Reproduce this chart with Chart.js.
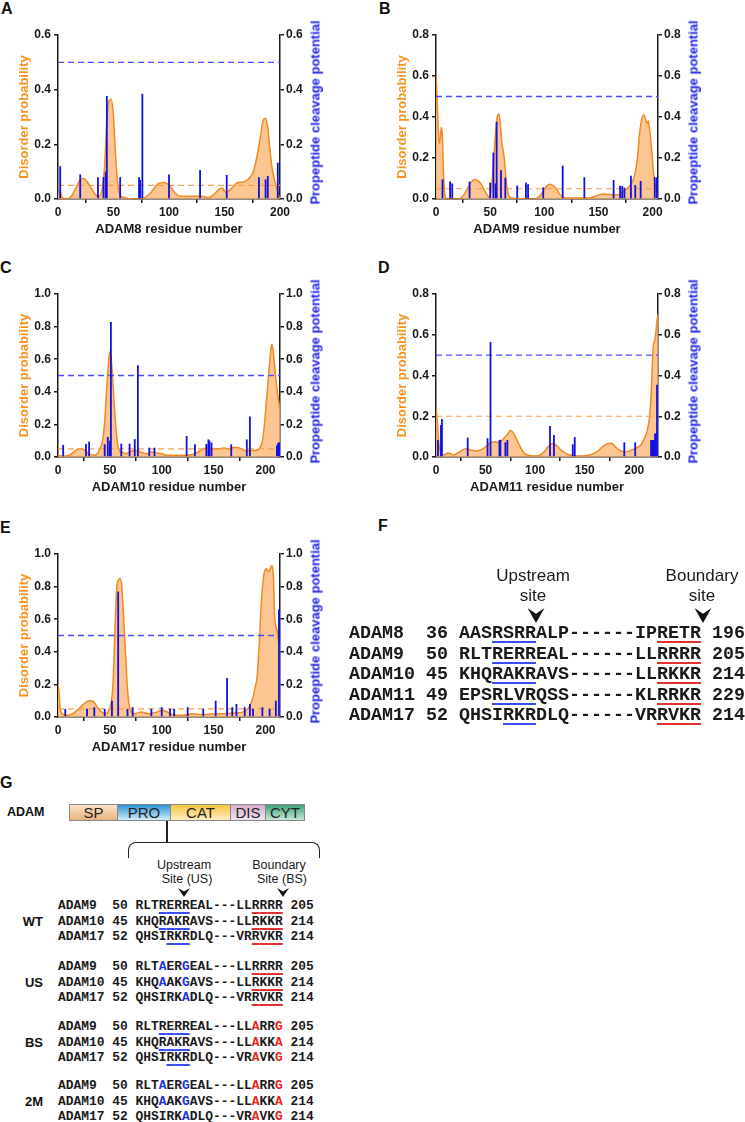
<!DOCTYPE html>
<html><head><meta charset="utf-8">
<script src="https://cdn.jsdelivr.net/npm/chart.js@4.4.0/dist/chart.umd.min.js"></script>
<style>
html,body{margin:0;padding:0;background:#fff;overflow:hidden;}
body{width:745px;height:1122px;position:relative;font-family:"Liberation Sans",Arial,Helvetica,sans-serif;color:#1a1a1a;}
.t{position:absolute;white-space:pre;}
.mono{font-family:"Liberation Mono","Courier New",monospace;font-weight:bold;}
canvas{position:absolute;}
.seg{position:absolute;top:804px;height:17px;box-sizing:border-box;border:1px solid #8a8a8a;font-size:15px;line-height:16px;text-align:center;color:#222;}
</style></head><body>
<script>
// ---------- shared tick labels ----------
const xTicks = [0, 50, 100, 150, 200];
const yTicks06 = [0, 0.2, 0.4, 0.6];
const yTicks08 = [0, 0.2, 0.4, 0.6, 0.8];
const yTicks10 = [0, 0.2, 0.4, 0.6, 0.8, 1.0];

// ---------- A: ADAM8 ----------
const adam8Res = [0,2,4,8,12,16,20,23,26,30,34,37,40,42,44,46,48,50,52,54,56,60,70,78,84,90,95,98,102,106,110,120,130,135,140,145,148,151,154,158,162,167,172,176,179,182,185,187,189,191,193,195,197,199,200];
const adam8Dis = [0.02,0.025,0.005,0,0.01,0.04,0.07,0.075,0.065,0.04,0.015,0.01,0.04,0.12,0.28,0.36,0.365,0.3,0.15,0.05,0.015,0.005,0,0.005,0.025,0.055,0.06,0.057,0.04,0.02,0.01,0.01,0.01,0.005,0.015,0.035,0.04,0.025,0.03,0.045,0.06,0.062,0.075,0.1,0.15,0.22,0.29,0.295,0.26,0.18,0.11,0.07,0.04,0.01,0];
const adam8CutRes = [2,20,36,41,43,44,56,73,74,76,100,128,152,181,187,189,198];
const adam8CutVal = [0.12,0.09,0.08,0.08,0.10,0.377,0.08,0.08,0.07,0.385,0.09,0.106,0.088,0.08,0.072,0.084,0.133];

// ---------- B: ADAM9 ----------
const adam9Res = [0,1,2,3,4,5,6,7,8,10,20,24,28,32,36,39,42,45,48,50,52,54,56,57,58,60,61,63,65,67,70,90,95,98,101,105,108,111,114,117,120,140,145,150,155,160,165,170,174,178,181,184,186,188,190,192,194,195,196,197,199,201,203,205];
const adam9Dis = [0.6,0.5,0.35,0.27,0.3,0.35,0.3,0.12,0.03,0,0,0.01,0.04,0.08,0.095,0.088,0.07,0.04,0.015,0.01,0.1,0.25,0.38,0.41,0.415,0.33,0.27,0.2,0.08,0.02,0.005,0,0.01,0.03,0.055,0.072,0.065,0.05,0.025,0.01,0.005,0.005,0.01,0.02,0.025,0.022,0.02,0.025,0.04,0.06,0.08,0.13,0.2,0.32,0.39,0.41,0.38,0.37,0.38,0.35,0.25,0.12,0.05,0.01];
const adam9CutRes = [6,13,15,31,50,53,55,56,60,64,75,83,85,99,117,137,164,170,172,174,180,184,189,202,204];
const adam9CutVal = [0.096,0.085,0.076,0.085,0.08,0.226,0.076,0.377,0.14,0.104,0.065,0.08,0.072,0.057,0.163,0.106,0.093,0.065,0.063,0.055,0.114,0.068,0.088,0.106,0.106];

// ---------- C: ADAM10 ----------
const adam10Res = [0,5,10,15,20,25,30,35,38,41,43,45,47,49,50,51,52,53,55,57,59,62,66,70,75,80,85,90,95,100,105,110,120,130,135,140,145,150,155,160,165,170,175,180,185,190,194,197,199,201,203,205,206,207,209,211,213,214];
const adam10Dis = [0.01,0.005,0.01,0.03,0.05,0.045,0.02,0.01,0.02,0.06,0.1,0.22,0.42,0.6,0.645,0.62,0.55,0.45,0.25,0.1,0.04,0.03,0.02,0.035,0.04,0.03,0.02,0.03,0.025,0.02,0.01,0.01,0.01,0.015,0.03,0.05,0.055,0.05,0.05,0.055,0.05,0.06,0.055,0.04,0.04,0.04,0.05,0.1,0.2,0.35,0.5,0.65,0.69,0.67,0.55,0.42,0.33,0.28];
const adam10CutRes = [5,27,30,45,48,50,51,61,69,74,77,88,93,124,132,143,145,146,148,167,182,185,211,212,213,214];
const adam10CutVal = [0.074,0.08,0.094,0.078,0.123,0.1,0.828,0.082,0.082,0.11,0.563,0.057,0.057,0.129,0.078,0.08,0.108,0.1,0.088,0.078,0.108,0.248,0.07,0.085,0.09,0.08];

// ---------- D: ADAM11 ----------
const adam11Res = [0,1,2,3,5,8,12,18,22,27,31,35,40,45,50,55,60,64,68,72,75,77,79,82,85,88,92,100,105,110,114,118,122,126,130,135,145,155,162,168,173,177,181,185,190,195,200,204,207,210,212,214,216,217,218,219,220,221,222,223,224];
const adam11Dis = [0.24,0.2,0.12,0.06,0.02,0.01,0.02,0.01,0.02,0.035,0.04,0.035,0.03,0.035,0.05,0.07,0.075,0.07,0.09,0.11,0.13,0.125,0.11,0.08,0.05,0.025,0.01,0.005,0.01,0.03,0.055,0.067,0.055,0.035,0.02,0.01,0.005,0.01,0.025,0.05,0.065,0.067,0.05,0.035,0.025,0.03,0.04,0.05,0.06,0.09,0.11,0.15,0.22,0.3,0.42,0.53,0.565,0.575,0.62,0.67,0.7];
const adam11CutRes = [2,5,6,32,52,55,64,65,70,72,115,119,138,140,190,201,217,218,219,220,221,222,223];
const adam11CutVal = [0.084,0.157,0.187,0.095,0.092,0.564,0.084,0.084,0.072,0.084,0.152,0.108,0.062,0.098,0.072,0.072,0.084,0.084,0.084,0.084,0.115,0.115,0.354];

// ---------- E: ADAM17 ----------
const adam17Res = [0,1,2,4,8,14,20,25,30,34,38,42,46,49,51,53,55,56.5,58,60,61.5,63,65,66.5,68,70,74,80,88,95,100,104,110,120,130,140,150,160,170,178,183,187,190,192,194,196,198,199,201,203,204,206,207.5,209,210.5,212,213,214];
const adam17Dis = [0.2,0.15,0.06,0.02,0.01,0.02,0.05,0.08,0.1,0.095,0.06,0.03,0.02,0.04,0.08,0.2,0.55,0.78,0.84,0.85,0.8,0.64,0.4,0.22,0.1,0.04,0.02,0.03,0.02,0.03,0.04,0.035,0.015,0.01,0.02,0.015,0.02,0.02,0.025,0.03,0.05,0.1,0.18,0.25,0.45,0.7,0.85,0.89,0.91,0.89,0.9,0.93,0.87,0.6,0.55,0.5,0.45,0.41];
const adam17CutRes = [7,28,35,45,52,58,67,72,90,100,108,112,125,140,152,163,168,172,180,185,188,197,204,210,213];
const adam17CutVal = [0.05,0.05,0.06,0.05,0.1,0.77,0.05,0.06,0.05,0.06,0.05,0.05,0.06,0.05,0.1,0.24,0.06,0.08,0.06,0.08,0.05,0.06,0.05,0.1,0.66];

// ---------- F: alignment ----------
const fNames = ['ADAM8','ADAM9','ADAM10','ADAM11','ADAM17'];
const fStart = [36,50,45,49,52];
const fUp = ['AASRSRRALP','RLTRERREAL','KHQRAKRAVS','EPSRLVRQSS','QHSIRKRDLQ'];
const fBound = ['IPRETR','LLRRRR','LLRKKR','KLRRKR','VRRVKR'];
const fEnd = [196,205,214,229,214];
const fBlueFrom = [3,3,3,3,4];

// ---------- G: constructs ----------
const gDomains = ['SP','PRO','CAT','DIS','CYT'];
const gNames = ['ADAM9','ADAM10','ADAM17'];
const gStart = [50,45,52];
const gEnd = [205,214,214];
const gGroups = ['WT','US','BS','2M'];
const gUpWT = ['RLTRERREAL','KHQRAKRAVS','QHSIRKRDLQ'];
const gUpMut = ['RLTAERGEAL','KHQAAKGAVS','QHSIRKADLQ'];
const gBdWT = ['LLRRRR','LLRKKR','VRRVKR'];
const gBdMut = ['LLARRG','LLAKKA','VRAVKG'];
const gUpMutPos = [[3,6],[3,6],[6]];
const gBdMutPos = [2,5];
const gBlueFrom = [3,3,4];
const gUpMutated = [false,true,false,true];
const gBdMutated = [false,false,true,true];

// ================= drawing =================
const FONT = "'Liberation Sans', Arial, Helvetica, sans-serif";
const INK = '#1a1a1a';
const ORANGE_LINE = '#F28A22';
const ORANGE_FILL = 'rgba(251,186,122,0.82)';
const ORANGE_DASH = '#F5A04C';
const BLUE_BAR = '#1111E2';
const BLUE_DASH = '#4D4DFF';
const ORANGE_TEXT = '#F7931E';
const BLUE_TEXT = '#2222E8';
const UL_BLUE = '#3A4DF0';
const UL_RED = '#E23030';

function addText(str, x, yc, size, o) {
  o = o || {};
  const d = document.createElement('div');
  d.className = 't' + (o.mono ? ' mono' : '');
  d.textContent = str;
  const align = o.align || 'left';
  const W = 600;
  let left = x;
  if (align === 'center') left = x - W / 2;
  if (align === 'right') left = x - W;
  let css = 'left:' + left + 'px;top:' + (yc - (o.mono ? 0.436 : 0.4885) * size) + 'px;font-size:' + size + 'px;line-height:' + size + 'px;';
  if (align !== 'left') css += 'width:' + W + 'px;text-align:' + align + ';';
  if (!o.mono) css += 'font-weight:' + (o.bold ? 'bold' : 'normal') + ';';
  css += 'color:' + (o.color || INK) + ';';
  d.style.cssText = css;
  document.body.appendChild(d);
  return d;
}
function addRotText(str, cx, cy, size, color) {
  const d = document.createElement('div');
  d.className = 't';
  d.textContent = str;
  d.style.cssText = 'left:' + (cx - 150) + 'px;top:' + (cy - size / 2) + 'px;width:300px;height:' + size + 'px;line-height:' + size + 'px;text-align:center;font-size:' + size + 'px;font-weight:bold;color:' + color + ';transform:rotate(-90deg);transform-origin:50% 50%;';
  document.body.appendChild(d);
}
function pts(xs, ys) { return xs.map((x, i) => ({ x: x, y: ys[i] })); }
function axisStyle() {
  return {
    grid: { display: true, drawOnChartArea: false, drawTicks: true, tickLength: 4, color: INK, lineWidth: 1.5 },
    border: { display: true, color: INK, width: 1.5 }
  };
}

function panel(p) {
  const cl = p.L - 41, ct = p.T - 20, cr = p.R + 28, cb = p.B + 38;
  const cv = document.createElement('canvas');
  cv.width = cr - cl; cv.height = cb - ct;
  cv.style.left = cl + 'px'; cv.style.top = ct + 'px';
  document.body.appendChild(cv);
  const tickFont = { family: FONT, size: 12, weight: 'bold' };
  const titleFont = { family: FONT, size: 13, weight: 'bold' };
  const fixY = s => { s.ticks = p.yTicks.map(v => ({ value: v })); };
  new Chart(cv, {
    type: 'line',
    data: { datasets: [
      { type: 'bar', data: pts(p.barRes, p.barVal), yAxisID: 'y1', backgroundColor: BLUE_BAR, borderWidth: 0, barThickness: 1.8, inflateAmount: 0, order: 0 },
      { type: 'line', data: [{ x: 0, y: 0.5 }, { x: p.xMax, y: 0.5 }], yAxisID: 'y1', borderColor: BLUE_DASH, borderWidth: 1.3, borderDash: [6, 4], pointRadius: 0, fill: false, order: 1 },
      { type: 'line', data: [{ x: 0, y: p.thr }, { x: p.xMax, y: p.thr }], yAxisID: 'y', borderColor: ORANGE_DASH, borderWidth: 1.2, borderDash: [6, 4], pointRadius: 0, fill: false, order: 1 },
      { type: 'line', data: pts(p.res, p.dis), yAxisID: 'y', borderColor: ORANGE_LINE, backgroundColor: ORANGE_FILL, borderWidth: 1.5, pointRadius: 0, fill: 'origin', cubicInterpolationMode: 'monotone', order: 2 }
    ] },
    options: {
      responsive: false, animation: false, devicePixelRatio: 1, events: [],
      layout: { padding: { top: 20, left: 0, right: 0, bottom: 0 } },
      plugins: { legend: { display: false }, tooltip: { enabled: false } },
      scales: {
        x: Object.assign(axisStyle(), {
          type: 'linear', min: 0, max: p.xMax, offset: false,
          afterFit: s => { s.height = 38; },
          afterBuildTicks: s => { s.ticks = xTicks.map(v => ({ value: v })); },
          ticks: { font: tickFont, color: INK, padding: 2, maxRotation: 0, autoSkip: false },
          title: { display: true, text: p.xTitle, font: titleFont, color: INK, padding: 0 }
        }),
        y: Object.assign(axisStyle(), {
          type: 'linear', position: 'left', min: 0, max: p.yMax,
          afterFit: s => { s.width = 41; }, afterBuildTicks: fixY,
          ticks: { font: tickFont, color: INK, padding: 3, callback: v => Number(v).toFixed(1) },
          title: { display: true, text: 'Disorder probability', font: titleFont, color: ORANGE_TEXT, padding: 0 }
        }),
        y1: Object.assign(axisStyle(), {
          type: 'linear', position: 'right', min: 0, max: p.yMax,
          afterFit: s => { s.width = 28; }, afterBuildTicks: fixY,
          ticks: { font: tickFont, color: INK, padding: 2, callback: v => Number(v).toFixed(1) }
        })
      }
    }
  });
  addRotText('Propeptide cleavage potential', p.R + 35, p.T + 77, 13, BLUE_TEXT);
  addText(p.letter, p.letterX, p.T - 26, 16, { bold: true, color: '#111' });
}

panel({ letter: 'A', letterX: 1, L: 58, T: 35, R: 280, B: 199, xMax: 200, yMax: 0.6, yTicks: yTicks06, thr: 0.05,
  res: adam8Res, dis: adam8Dis, barRes: adam8CutRes, barVal: adam8CutVal, xTitle: 'ADAM8 residue number' });
panel({ letter: 'B', letterX: 379, L: 436, T: 35, R: 658, B: 199, xMax: 205, yMax: 0.8, yTicks: yTicks08, thr: 0.05,
  res: adam9Res, dis: adam9Dis, barRes: adam9CutRes, barVal: adam9CutVal, xTitle: 'ADAM9 residue number' });
panel({ letter: 'C', letterX: 0, L: 58, T: 294, R: 280, B: 457, xMax: 214, yMax: 1.0, yTicks: yTicks10, thr: 0.05,
  res: adam10Res, dis: adam10Dis, barRes: adam10CutRes, barVal: adam10CutVal, xTitle: 'ADAM10 residue number' });
panel({ letter: 'D', letterX: 378, L: 436, T: 294, R: 658, B: 457, xMax: 224, yMax: 0.8, yTicks: yTicks08, thr: 0.2,
  res: adam11Res, dis: adam11Dis, barRes: adam11CutRes, barVal: adam11CutVal, xTitle: 'ADAM11 residue number' });
panel({ letter: 'E', letterX: 0, L: 58, T: 554, R: 280, B: 717, xMax: 214, yMax: 1.0, yTicks: yTicks10, thr: 0.05,
  res: adam17Res, dis: adam17Dis, barRes: adam17CutRes, barVal: adam17CutVal, xTitle: 'ADAM17 residue number' });

// ---------- helpers for F / G ----------
function arrow(cx, top, w, h) {
  const d = document.createElement('div');
  d.style.cssText = 'position:absolute;left:' + (cx - w / 2) + 'px;top:' + top + 'px;width:' + w + 'px;height:' + h + 'px;background:#111;clip-path:polygon(0 0,50% 38%,100% 0,50% 100%);';
  document.body.appendChild(d);
}
function seqLine(text, x, yc, size, colors, uls, th, off) {
  const d = document.createElement('div');
  d.className = 't mono';
  d.style.cssText = 'left:' + x + 'px;top:' + (yc - 0.436 * size) + 'px;font-size:' + size + 'px;line-height:' + size + 'px;color:' + INK + ';';
  for (let i = 0; i < text.length; i++) {
    const s = document.createElement('span');
    s.textContent = text[i];
    if (colors[i]) s.style.color = colors[i];
    if (uls[i]) {
      s.style.textDecorationLine = 'underline';
      s.style.textDecorationColor = uls[i];
      s.style.textDecorationThickness = th + 'px';
      s.style.textUnderlineOffset = off + 'px';
      s.style.textDecorationSkipInk = 'none';
    }
    d.appendChild(s);
  }
  document.body.appendChild(d);
}

// ---------- F ----------
addText('F', 378, 526, 16, { bold: true, color: '#111' });
addText('Upstream', 533, 575, 17, { align: 'center' });
addText('site', 533, 595, 17, { align: 'center' });
addText('Boundary', 702, 575, 17, { align: 'center' });
addText('site', 702, 595, 17, { align: 'center' });
arrow(536, 608, 17, 15);
arrow(703, 608, 17, 15);
const fRowY = [633, 653.6, 674.2, 694.8, 715.4];
fNames.forEach((n, r) => {
  const txt = n.padEnd(7) + String(fStart[r]).padEnd(3) + fUp[r] + '------' + fBound[r] + ' ' + fEnd[r];
  const uls = {};
  for (let i = 10 + fBlueFrom[r]; i <= 16; i++) uls[i] = UL_BLUE;
  for (let i = 28; i <= 31; i++) uls[i] = UL_RED;
  seqLine(txt, 349, fRowY[r], 18.33, {}, uls, 2, 3);
});

// ---------- G ----------
addText('G', 0, 783, 16, { bold: true, color: '#111' });
addText('ADAM', 7, 812.5, 12.5, { bold: true, color: '#111' });
const gEdges = [69, 117, 170, 230, 265, 304];
const gBg = [
  'linear-gradient(#fbe4c8,#e9b27f)',
  'linear-gradient(#2f93d3,#8cc8ec 60%,#d6edf9)',
  'linear-gradient(#f8c53e,#fdeec0)',
  'linear-gradient(#d4accb,#f2e4ef)',
  'linear-gradient(#3ea27a,#c4e6d6)'
];
gDomains.forEach((nm, i) => {
  const d = document.createElement('div');
  d.className = 'seg';
  d.textContent = nm;
  d.style.left = gEdges[i] + 'px';
  d.style.width = (gEdges[i + 1] - gEdges[i] + 1) + 'px';
  d.style.background = gBg[i];
  document.body.appendChild(d);
});
(function () {
  const stem = document.createElement('div');
  stem.style.cssText = 'position:absolute;left:166px;top:821px;width:1.5px;height:22px;background:#222;';
  document.body.appendChild(stem);
  const br = document.createElement('div');
  br.style.cssText = 'position:absolute;left:128px;top:842px;width:192px;height:16px;box-sizing:border-box;border:1.5px solid #222;border-bottom:none;border-radius:8px 8px 0 0;';
  document.body.appendChild(br);
})();
addText('Upstream', 184, 865, 12.5, { align: 'center' });
addText('Site (US)', 187, 879, 12.5, { align: 'center' });
addText('Boundary', 279, 865, 12.5, { align: 'center' });
addText('Site (BS)', 282, 879, 12.5, { align: 'center' });
arrow(184, 888, 12, 9);
arrow(283, 888, 12, 9);

const gGroupTop = [906, 967, 1027, 1086];
const gRowGap = 15.2;
gGroups.forEach((g, gi) => {
  addText(g, 43, gGroupTop[gi] + gRowGap, 13, { bold: true, align: 'right', color: '#111' });
  gNames.forEach((n, r) => {
    const up = gUpMutated[gi] ? gUpMut[r] : gUpWT[r];
    const bd = gBdMutated[gi] ? gBdMut[r] : gBdWT[r];
    const txt = n.padEnd(7) + String(gStart[r]).padEnd(3) + up + '---' + bd + ' ' + gEnd[r];
    const colors = {}, uls = {};
    if (gUpMutated[gi]) gUpMutPos[r].forEach(k => { colors[10 + k] = '#2233E0'; });
    else for (let i = 10 + gBlueFrom[r]; i <= 16; i++) uls[i] = UL_BLUE;
    if (gBdMutated[gi]) gBdMutPos.forEach(k => { colors[23 + k] = '#E8231E'; });
    else for (let i = 25; i <= 28; i++) uls[i] = UL_RED;
    seqLine(txt, 58, gGroupTop[gi] + r * gRowGap, 12.9, colors, uls, 1.5, 2.5);
  });
});
</script>
</body></html>
